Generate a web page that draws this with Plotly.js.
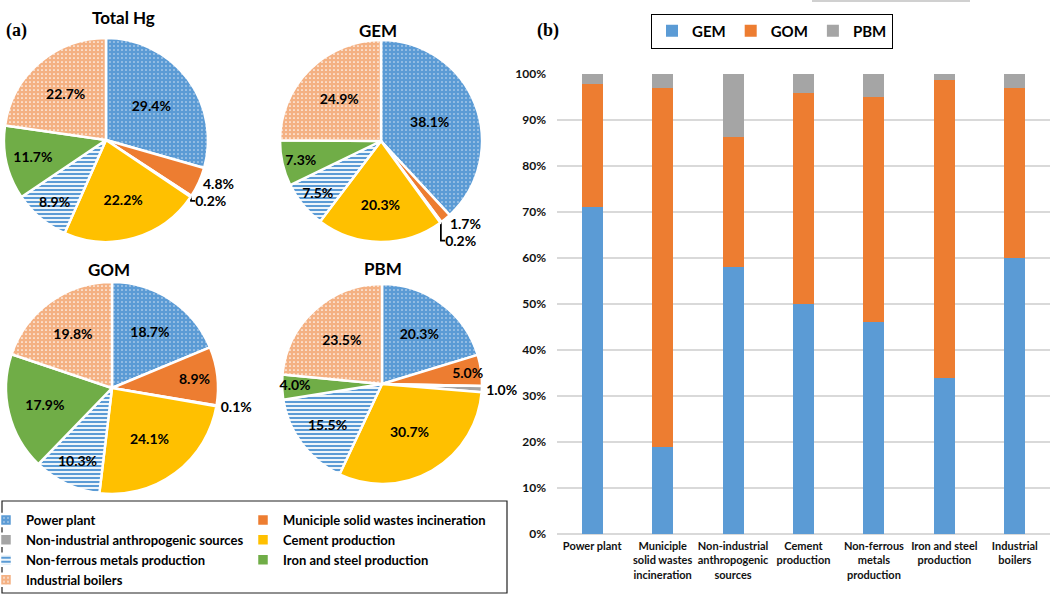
<!DOCTYPE html>
<html>
<head>
<meta charset="utf-8">
<script src="https://cdn.plot.ly/plotly-3.0.1.min.js"></script>
<style>html,body{margin:0;padding:0;background:#fff;}#chart{width:1050px;height:595px;}</style>
</head>
<body>
<div id="chart"></div>
<script>
// ---------- data ----------
const sources = ["Power plant", "Municiple solid wastes incineration", "Non-industrial anthropogenic sources",
  "Cement production", "Non-ferrous metals production", "Iron and steel production", "Industrial boilers"];
const totalHg = [29.4, 4.8, 0.2, 22.2, 8.9, 11.7, 22.7];
const gemShare = [38.1, 1.7, 0.2, 20.3, 7.5, 7.3, 24.9];
const gomShare = [18.7, 8.9, 0.1, 24.1, 10.3, 17.9, 19.8];
const pbmShare = [20.3, 5.0, 1.0, 30.7, 15.5, 4.0, 23.5];

const barCategories = ["Power plant", "Municiple<br>solid wastes<br>incineration", "Non-industrial<br>anthropogenic<br>sources",
  "Cement<br>production", "Non-ferrous<br>metals<br>production", "Iron and steel<br>production", "Industrial<br>boilers"];
const barGEM = [71.0, 19.0, 58.1, 50.1, 46.0, 34.0, 60.0];
const barGOM = [26.8, 78.0, 28.1, 45.8, 49.0, 64.8, 37.0];
const barPBM = [2.2, 3.0, 13.8, 4.1, 5.0, 1.2, 3.0];
const yTickVals = [0, 10, 20, 30, 40, 50, 60, 70, 80, 90, 100];
const yTickText = ["0%", "10%", "20%", "30%", "40%", "50%", "60%", "70%", "80%", "90%", "100%"];

// ---------- style ----------
const W = 1050, H = 595;
const FONT = "Lato, 'Open Sans', sans-serif";
const px = x => x / W;
const py = y => 1 - y / H;
const sliceColors = ["#5B9BD5", "#ED7D31", "#A5A5A5", "#FFC000", "#FFFFFF", "#70AD47", "#F4B183"];
const pattern = {
  shape: [".", "", "", "", "-", "", "."],
  fgcolor: ["#DCE9F6", "#ED7D31", "#A5A5A5", "#FFC000", "#5B9BD5", "#70AD47", "#FFFFFF"],
  bgcolor: ["#5B9BD5", "#ED7D31", "#A5A5A5", "#FFC000", "#FFFFFF", "#70AD47", "#F4B183"],
  size: [4, 8, 8, 8, 4, 8, 4],
  solidity: [0.12, 0.3, 0.3, 0.3, 0.55, 0.3, 0.15],
  fillmode: "replace"
};

function pie(values, dom, positions) {
  return {
    type: "pie", labels: sources, values: values, sort: false, direction: "clockwise", rotation: 0,
    domain: {x: [px(dom[0]), px(dom[1])], y: [py(dom[3]), py(dom[2])]},
    marker: {colors: sliceColors, pattern: pattern, line: {color: "#FFFFFF", width: 2.5}},
    texttemplate: "%{value:.1f}%", textposition: positions, insidetextorientation: "horizontal",
    textfont: {family: FONT, size: 14, color: "#000", weight: 700},
    outsidetextfont: {family: FONT, size: 14, color: "#000", weight: 700},
    hoverinfo: "label+percent", legend: "legend", showlegend: true
  };
}

const pos1 = ["inside", "outside", "outside", "inside", "inside", "inside", "inside"];
const pos3 = ["inside", "inside", "outside", "inside", "inside", "inside", "inside"];

const data = [
  pie(totalHg, [4, 208, 38, 242], pos1),
  pie(gemShare, [280, 482, 40, 242], pos1),
  pie(gomShare, [6, 218, 282, 494], pos3),
  pie(pbmShare, [282, 482, 284, 484], pos3),
  {type: "bar", name: "GEM", x: barCategories, y: barGEM, marker: {color: "#5B9BD5"}, xaxis: "x", yaxis: "y", legend: "legend2"},
  {type: "bar", name: "GOM", x: barCategories, y: barGOM, marker: {color: "#ED7D31"}, xaxis: "x", yaxis: "y", legend: "legend2"},
  {type: "bar", name: "PBM", x: barCategories, y: barPBM, marker: {color: "#A5A5A5"}, xaxis: "x", yaxis: "y", legend: "legend2"}
];

function ann(text, x, y, size, family) {
  return {text: text, x: px(x), y: py(y), xref: "paper", yref: "paper", xanchor: "center", yanchor: "middle",
    showarrow: false, font: {family: family || FONT, size: size, color: "#000", weight: 700}};
}

const layout = {
  width: W, height: H,
  margin: {l: 0, r: 0, t: 0, b: 0, pad: 0, autoexpand: false},
  paper_bgcolor: "#FFFFFF", plot_bgcolor: "#FFFFFF",
  barmode: "stack", bargap: 0.7,
  uniformtext: {mode: "show", minsize: 14},
  xaxis: {domain: [px(557), px(1050)], type: "category", showgrid: false, showline: false, ticks: "",
    tickfont: {family: FONT, size: 11, color: "#111", weight: 700}, ticklabelstandoff: 4, fixedrange: true},
  yaxis: {domain: [py(534), py(74)], range: [0, 100], tickmode: "array", tickvals: yTickVals, ticktext: yTickText,
    showgrid: true, gridcolor: "#D9D9D9", gridwidth: 1.2, zeroline: true, zerolinecolor: "#D9D9D9", zerolinewidth: 1.2,
    showline: false, ticks: "",
    tickfont: {family: FONT, size: 12, color: "#111", weight: 700}, ticklabelstandoff: 10, fixedrange: true},
  legend: {orientation: "h", x: -14 / W, xanchor: "left", y: py(505), yanchor: "top",
    entrywidth: 212, entrywidthmode: "pixels", traceorder: "normal",
    font: {family: FONT, size: 13, color: "#000", weight: 700}, bgcolor: "rgba(0,0,0,0)", borderwidth: 0},
  legend2: {orientation: "h", x: px(772), xanchor: "center", y: py(31), yanchor: "middle", traceorder: "normal",
    font: {family: FONT, size: 15, color: "#000", weight: 700}, bgcolor: "#FFFFFF", bordercolor: "#000", borderwidth: 1},
  shapes: [
    {type: "rect", xref: "paper", yref: "paper", x0: px(2), x1: px(507), y0: py(593), y1: py(501),
      line: {color: "#222", width: 1.2}, fillcolor: "rgba(0,0,0,0)", layer: "below"},
    {type: "line", xref: "paper", yref: "paper", x0: px(812), x1: px(970), y0: py(1), y1: py(1),
      line: {color: "#D0D0D0", width: 2}}
  ],
  annotations: [
    ann("(a)", 16, 30, 18, "'Liberation Serif', serif"),
    ann("(b)", 548, 30, 18, "'Liberation Serif', serif"),
    ann("Total Hg", 123, 17, 17),
    ann("GEM", 378, 30, 17),
    ann("GOM", 109, 270, 17),
    ann("PBM", 383, 269, 17)
  ]
};

Plotly.newPlot("chart", data, layout, {displayModeBar: false, staticPlot: true});
</script>
</body>
</html>
